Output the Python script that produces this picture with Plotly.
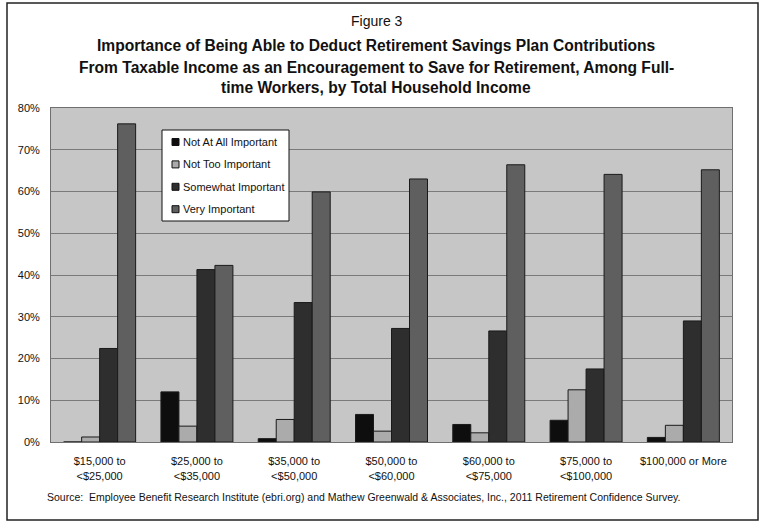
import plotly.graph_objects as go

# Household income brackets (x categories)
categories = [
    "$15,000 to<br><$25,000",
    "$25,000 to<br><$35,000",
    "$35,000 to<br><$50,000",
    "$50,000 to<br><$60,000",
    "$60,000 to<br><$75,000",
    "$75,000 to<br><$100,000",
    "$100,000 or More",
]

# Share of full-time workers (%) by response
not_at_all = [0.0, 12.0, 0.8, 6.6, 4.2, 5.2, 1.1]
not_too = [1.2, 3.8, 5.4, 2.6, 2.2, 12.5, 4.0]
somewhat = [22.4, 41.3, 33.4, 27.2, 26.6, 17.5, 29.0]
very = [76.2, 42.3, 59.9, 63.0, 66.4, 64.1, 65.2]

series_names = ["Not At All Important", "Not Too Important", "Somewhat Important", "Very Important"]
series_values = [not_at_all, not_too, somewhat, very]
series_colors = ["#0e0e0e", "#ababab", "#2e2e2e", "#5f5f5f"]

y_ticks = [0, 10, 20, 30, 40, 50, 60, 70, 80]
y_tick_labels = ["0%", "10%", "20%", "30%", "40%", "50%", "60%", "70%", "80%"]

title_lines = [
    "Importance of Being Able to Deduct Retirement Savings Plan Contributions",
    "From Taxable Income as an Encouragement to Save for Retirement, Among Full-",
    "time Workers, by Total Household Income",
]
source_text = ("Source:  Employee Benefit Research Institute (ebri.org) and Mathew Greenwald & "
               "Associates, Inc., 2011 Retirement Confidence Survey.")

SANS = "Liberation Sans, Arial, sans-serif"

# Plot-area geometry in pixels (used to place paper-referenced extras)
W, H = 765, 527
PL, PR, PT, PB = 51, 732, 108, 442
PW, PH = PR - PL, PB - PT


def px(x):
    return (x - PL) / PW


def py(y):
    return (PB - y) / PH


fig = go.Figure()
for name, vals, col in zip(series_names, series_values, series_colors):
    fig.add_trace(go.Bar(
        name=name,
        x=categories,
        y=vals,
        marker=dict(color=col, line=dict(color="#1a1a1a", width=1)),
        showlegend=False,
    ))

fig.update_layout(
    width=W,
    height=H,
    margin=dict(l=PL, r=W - PR, t=PT, b=H - PB),
    paper_bgcolor="white",
    plot_bgcolor="#c6c6c6",
    barmode="group",
    bargap=0.26,
    bargroupgap=0,
    xaxis=dict(
        showgrid=False, showline=True, linecolor="#6f6f6f", linewidth=1, mirror=True,
        ticks="", ticklabelstandoff=9,
        tickfont=dict(family=SANS, size=11, color="#111111"),
    ),
    yaxis=dict(
        range=[0, 80], tickvals=y_ticks, ticktext=y_tick_labels,
        showgrid=True, gridcolor="#7a7a7a", gridwidth=1,
        showline=True, linecolor="#6f6f6f", linewidth=1, mirror=True,
        zeroline=False, ticks="", ticklabelstandoff=8,
        tickfont=dict(family=SANS, size=11, color="#111111"),
    ),
)

# Title block
fig.add_annotation(text="Figure 3", xref="paper", yref="paper",
                   x=px(377), y=py(21), xanchor="center", yanchor="middle",
                   showarrow=False, font=dict(family=SANS, size=14, color="#111111"))
for line, yy in zip(title_lines, [46, 67, 87]):
    fig.add_annotation(text=f"<b>{line}</b>", xref="paper", yref="paper",
                       x=px(376), y=py(yy), xanchor="center", yanchor="middle",
                       showarrow=False, font=dict(family=SANS, size=15.6, color="#111111"))

# Legend box with small square keys
fig.add_shape(type="rect", xref="paper", yref="paper",
              x0=px(162), x1=px(289), y0=py(221), y1=py(130),
              line=dict(color="#111111", width=1), fillcolor="white")
for i, (name, col) in enumerate(zip(series_names, series_colors)):
    yc = 142 + i * 22.4
    fig.add_shape(type="rect", xref="paper", yref="paper",
                  x0=px(172), x1=px(179), y0=py(yc + 3.5), y1=py(yc - 3.5),
                  line=dict(color="#111111", width=1), fillcolor=col)
    fig.add_annotation(text=name, xref="paper", yref="paper",
                       x=px(181), y=py(yc), xanchor="left", yanchor="middle",
                       showarrow=False, font=dict(family=SANS, size=11, color="#111111"))

# Source note
fig.add_annotation(text=source_text, xref="paper", yref="paper",
                   x=px(45), y=py(497), xanchor="left", yanchor="middle",
                   showarrow=False, font=dict(family=SANS, size=10.5, color="#111111"))

# Outer frame around the figure
fig.add_shape(type="rect", xref="paper", yref="paper",
              x0=px(7), x1=px(758), y0=py(520), y1=py(3),
              line=dict(color="#222222", width=1.5), fillcolor="rgba(0,0,0,0)")

fig.write_html("out.html")
